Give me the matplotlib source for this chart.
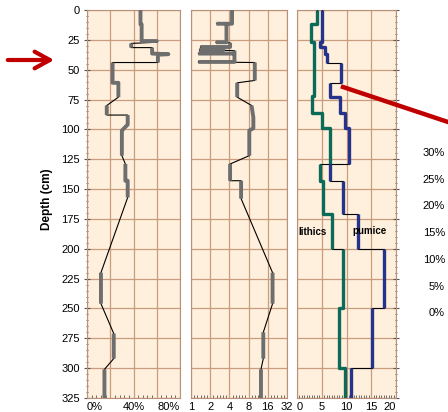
import numpy as np
import matplotlib.pyplot as plt
from matplotlib.lines import Line2D
from matplotlib.patches import FancyArrowPatch
from matplotlib.ticker import FixedLocator, MultipleLocator, FixedFormatter, NullFormatter

plt.rcParams['font.family'] = ['Liberation Sans', 'DejaVu Sans']
plt.rcParams['font.size'] = 8

# panel 1 - percent (grey)
p1_val = [46, 46, 47, 47, 60, 60, 38, 38, 56, 56, 70, 61, 61, 22, 22, 27, 27,
          17, 17, 35, 35, 31, 30, 30, 33, 33, 35, 35, 12, 12, 23, 23, 15, 15]
p1_depth = [0, 12, 12, 26, 26, 27, 28, 31.5, 31.5, 36.5, 37, 37.5, 44, 44, 61, 61, 73,
            80, 88, 88, 96, 100, 101, 122, 129, 143, 143, 157, 220, 246, 271, 292, 301, 325]
p1_thin = [5, 7, 12, 16, 18, 23, 27, 29, 31]

# panel 2 - log2 scale (grey)
p2_val = [4.4, 4.4, 2.5, 3.6, 3.6, 2.45, 4.1, 4.1, 1.4, 3.2, 3.2, 1.35, 4.8, 4.8, 1.3,
          4.8, 4.8, 1.3, 10, 10, 5.3, 5.3, 8.9, 9.5, 9.5, 8.2, 8.2, 4.1, 4.1, 6.1, 6.1,
          19, 19, 13.6, 13.6, 12.5, 12.5]
p2_depth = [0, 11.5, 11.5, 12.5, 27, 27, 27.5, 31, 31, 31.5, 33.5, 33.5, 34, 36.5, 36.5,
            37, 43.5, 43.5, 44, 59, 61, 73, 80, 90, 99, 101, 122, 129, 143, 143, 158,
            220, 246, 270, 292, 301, 325]
p2_thin = [2, 5, 8, 11, 14, 17, 19, 21, 26, 28, 30, 32, 34]

# panel 3 - lithics (green) and pumice (blue)
lith_val = [4.1, 4.1, 2.9, 2.9, 3.4, 3.4, 3.0, 3.0, 5.1, 5.1, 6.7, 6.7, 4.7, 4.7, 5.3, 5.3,
            7.1, 7.1, 9.2, 9.2, 8.5, 8.5, 9.6, 9.6]
lith_depth = [0, 12, 12, 27, 27, 72, 72, 86, 86, 99, 99, 129, 129, 143, 143, 171,
              171, 200, 200, 250, 250, 300, 300, 325]
lith_thin = [11, 17]

pum_val = [5.05, 5.05, 4.7, 4.7, 5.6, 5.6, 6.1, 6.1, 8.8, 8.8, 6.6, 6.6, 8.6, 8.6, 9.6, 9.6,
           10.6, 10.6, 6.7, 6.7, 9.2, 9.2, 12.3, 12.3, 17.6, 17.6, 15.1, 15.1, 11.0, 11.0]
pum_depth = [0, 27, 27, 31, 31, 37, 37, 44, 44, 61, 61, 73, 73, 86, 86, 99,
             99, 129, 129, 143, 143, 171, 171, 200, 200, 250, 250, 300, 300, 325]
pum_thin = [7, 9, 17, 19, 21, 23, 25, 27]

right_labels = ['30%', '25%', '20%', '15%', '10%', '5%', '0%']

bg = '#fef0dc'
gridc = '#c99c80'
spinec = '#b8917a'


def thick_path(vals, depths, thin):
    xs, ys = [], []
    for i in range(len(vals)):
        xs.append(vals[i])
        ys.append(depths[i])
        if i in thin:
            xs.append(np.nan)
            ys.append(np.nan)
    return xs, ys


def draw(ax, vals, depths, thin, color, lw):
    ax.plot(vals, depths, color='black', lw=0.8, zorder=3)
    xs, ys = thick_path(vals, depths, thin)
    ax.plot(xs, ys, color=color, lw=lw, zorder=4, solid_capstyle='butt')


fig = plt.figure(figsize=(4.48, 4.12), dpi=100)
W, H = 448, 412
bot = 1 - 398 / H
hgt = 388 / H
ax1 = fig.add_axes([87 / W, bot, 93 / W, hgt])
ax2 = fig.add_axes([191 / W, bot, 96 / W, hgt])
ax3 = fig.add_axes([297 / W, bot, 99 / W, hgt])

for ax in (ax1, ax2, ax3):
    ax.set_facecolor(bg)
    ax.set_ylim(325, 0)
    ax.yaxis.set_major_locator(MultipleLocator(25))
    ax.grid(True, color=gridc, lw=0.9)
    ax.set_axisbelow(True)
    for s in ax.spines.values():
        s.set_color(spinec)
    ax.tick_params(axis='x', which='major', length=0, pad=3, labelsize=8)
    ax.tick_params(axis='x', which='minor', direction='in', length=2, color='#555555')

draw(ax1, p1_val, p1_depth, p1_thin, '#6e6e6e', 2.8)
draw(ax2, p2_val, p2_depth, p2_thin, '#6e6e6e', 2.8)
draw(ax3, lith_val, lith_depth, lith_thin, '#0b6b58', 2.4)
draw(ax3, pum_val, pum_depth, pum_thin, '#25348a', 2.4)

# panel 1 axes
ax1.set_xlim(0, 80)
ax1.xaxis.set_major_locator(FixedLocator([0, 20, 40, 60, 80]))
ax1.xaxis.set_major_formatter(FixedFormatter(['0%', '', '40%', '', '80%']))
ax1.xaxis.set_minor_locator(MultipleLocator(4))
ax1.yaxis.set_minor_locator(MultipleLocator(5))
ax1.tick_params(axis='y', which='major', direction='inout', length=4, color='#555555', labelsize=8, pad=3)
ax1.tick_params(axis='y', which='minor', direction='inout', length=2, color='#555555')
labs = ax1.get_xticklabels()
labs[0].set_ha('left')
labs[-1].set_ha('right')

# panel 2 axes
ax2.set_xscale('log', base=2)
ax2.set_xlim(1, 32)
ax2.xaxis.set_major_locator(FixedLocator([1, 2, 4, 8, 16, 32]))
ax2.xaxis.set_major_formatter(FixedFormatter(['1', '2', '4', '8', '16', '32']))
ax2.xaxis.set_minor_locator(FixedLocator(2 ** np.arange(0, 5.01, 1 / 6)))
ax2.xaxis.set_minor_formatter(NullFormatter())
ax2.tick_params(axis='y', which='both', length=0, labelleft=False)

# panel 3 axes
ax3.set_xlim(0, 20)
ax3.xaxis.set_major_locator(FixedLocator([0, 5, 10, 15, 20]))
ax3.xaxis.set_minor_locator(MultipleLocator(0.5))
ax3.yaxis.tick_right()
ax3.yaxis.set_minor_locator(MultipleLocator(5))
ax3.tick_params(axis='y', which='major', direction='inout', length=4, color='#555555', labelright=False)
ax3.tick_params(axis='y', which='minor', direction='inout', length=2, color='#555555')
labs = ax3.get_xticklabels()
labs[0].set_ha('left')
labs[-1].set_ha('right')

ax3.text(3.1, 186, 'lithics', fontsize=7, fontweight='bold', ha='center', va='center', zorder=5)
ax3.text(14.7, 185, 'pumice', fontsize=7, fontweight='bold', ha='center', va='center', zorder=5)

fig.text(47 / W, 1 - 199 / H, 'Depth (cm)', rotation=90, fontweight='bold',
         fontsize=8.5, ha='center', va='center')

# labels of the cut-off chart at right
for i, lab in enumerate(right_labels):
    fig.text(445 / W, 1 - (153 + 26.7 * i) / H, lab, ha='right', va='center', fontsize=8)

# red arrow and red pointer line
fig.add_artist(FancyArrowPatch((5 / W, 1 - 60 / H), (57 / W, 1 - 60 / H),
                               transform=fig.transFigure,
                               arrowstyle='->,head_length=11,head_width=6',
                               mutation_scale=1, lw=3, color='#c00000'))
fig.add_artist(Line2D([343 / W, 1.0], [1 - 87 / H, 1 - 122 / H],
                      transform=fig.transFigure, lw=3.2, color='#c00000', zorder=10))

fig.savefig('out.png', dpi=100)
